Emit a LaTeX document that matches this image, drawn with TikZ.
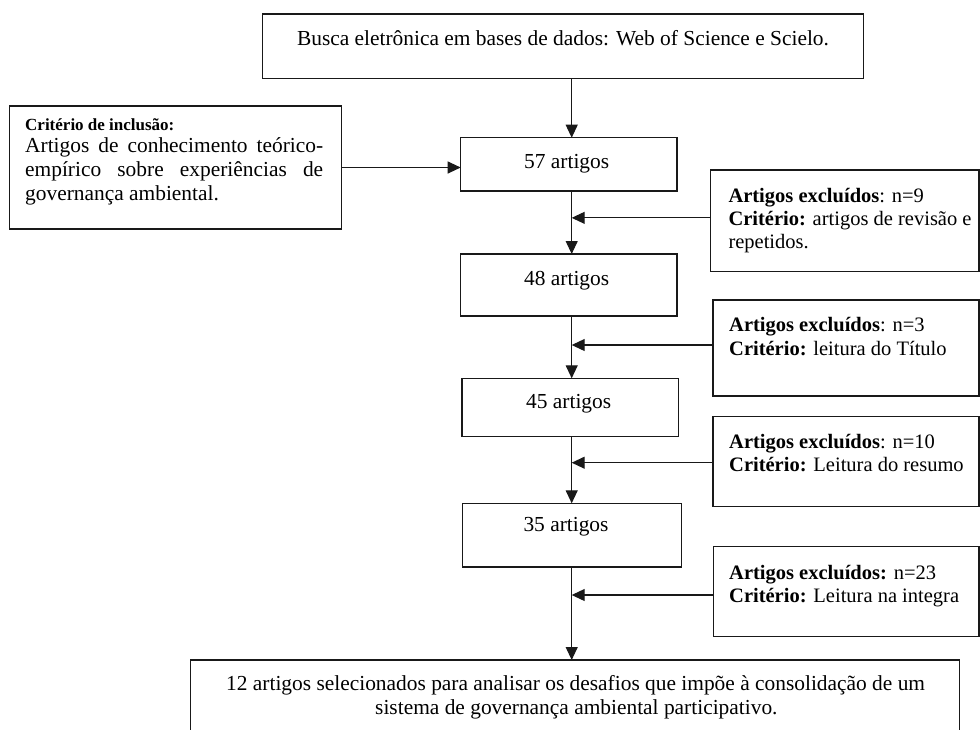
\documentclass[tikz,border=0pt]{standalone}
\usepackage{fontspec}
\setmainfont{Liberation Serif}
\usetikzlibrary{arrows.meta}
\begin{document}
\begin{tikzpicture}[x=1pt,y=-1pt,
  box/.style={draw=black!90, line width=1.1pt, rectangle, inner sep=0pt, outer sep=0pt, anchor=north west},
  txt/.style={inner sep=0pt, font=\fontsize{21.4}{24}\selectfont},
  etxt/.style={inner sep=0pt, anchor=mid west, font=\fontsize{20.5}{23}\selectfont},
  arr/.style={draw=black!90, line width=1.1pt, -{Triangle[length=13pt,width=12pt]}}]
\useasboundingbox (0,0) rectangle (980,729);
\fill[white] (0,0) rectangle (980,729);
\clip (0,0) rectangle (980,729);
\coordinate (ax) at (571.7,0);
% boxes
\node[box, minimum width=600.6pt, minimum height=64.3pt] (top) at (262.7,14) {};
\node[box, minimum width=332.4pt, minimum height=123pt] (inc) at (9.3,106) {};
\node[box, minimum width=216.3pt, minimum height=53.3pt] (n57) at (460.7,137.7) {};
\node[box, minimum width=216.3pt, minimum height=62pt] (n48) at (460.7,254) {};
\node[box, minimum width=216.7pt, minimum height=58.4pt] (n45) at (462,378.3) {};
\node[box, minimum width=219pt, minimum height=63.7pt] (n35) at (462.7,503.3) {};
\node[box, minimum width=268.3pt, minimum height=101.7pt] (e1) at (710.7,170) {};
\node[box, minimum width=266pt, minimum height=96pt] (e2) at (713,300) {};
\node[box, minimum width=266pt, minimum height=90pt] (e3) at (713,416.7) {};
\node[box, minimum width=265.7pt, minimum height=90pt] (e4) at (713.3,546.7) {};
\node[box, minimum width=768.6pt, minimum height=100pt] (fin) at (190.7,660) {};
% texts
\node[txt, anchor=mid] (ttop) at (563,43) {Busca eletrônica em bases de dados: Web of Science e Scielo.};
\node[txt, anchor=mid west, font=\fontsize{17}{20}\selectfont\bfseries] (tinc0) at (25,128) {Critério de inclusão:};
\node[txt, anchor=mid west] (tinc1) at (25,150) {\makebox[298pt][s]{Artigos de conhecimento teórico-}};
\node[txt, anchor=mid west] (tinc2) at (25,174) {\makebox[298pt][s]{empírico sobre experiências de}};
\node[txt, anchor=mid west] (tinc3) at (25,198) {governança ambiental.};
\node[txt, anchor=mid] (t57) at (566.7,166.5) {57 artigos};
\node[txt, anchor=mid] (t48) at (566.7,283) {48 artigos};
\node[txt, anchor=mid] (t45) at (568.7,406) {45 artigos};
\node[txt, anchor=mid] (t35) at (566,529.5) {35 artigos};
\node[etxt] (te1a) at (728.3,200) {\textbf{Artigos excluídos}: n=9};
\node[etxt] (te1b) at (728.3,223) {\textbf{Critério:} artigos de revisão e};
\node[etxt] (te1c) at (728.3,246) {repetidos.};
\node[etxt] (te2a) at (729,329) {\textbf{Artigos excluídos}: n=3};
\node[etxt] (te2b) at (729,353) {\textbf{Critério:} leitura do Título};
\node[etxt] (te3a) at (729,446) {\textbf{Artigos excluídos}: n=10};
\node[etxt] (te3b) at (729,469) {\textbf{Critério:} Leitura do resumo};
\node[etxt] (te4a) at (729,577) {\textbf{Artigos excluídos:} n=23};
\node[etxt] (te4b) at (729,600) {\textbf{Critério:} Leitura na integra};
\node[txt, anchor=mid west] (tfa) at (226,688) {12 artigos selecionados para analisar os desafios que impõe à consolidação de um};
\node[txt, anchor=mid west] (tfb) at (375,712) {sistema de governança ambiental participativo.};
% connectors
\draw[arr] (top.south -| ax) -- (n57.north -| ax);
\draw[arr] (inc.east) -- (inc.east -| n57.west);
\draw[arr] (n57.south -| ax) -- (n48.north -| ax);
\draw[arr] (n48.south -| ax) -- (n45.north -| ax);
\draw[arr] (n45.south -| ax) -- (n35.north -| ax);
\draw[arr] (n35.south -| ax) -- (fin.north -| ax);
\draw[arr] ([yshift=3pt]e1.west) -- ([yshift=3pt]e1.west -| ax);
\draw[arr] ([yshift=3pt]e2.west) -- ([yshift=3pt]e2.west -| ax);
\draw[arr] ([yshift=-1pt]e3.west) -- ([yshift=-1pt]e3.west -| ax);
\draw[arr] ([yshift=-3.3pt]e4.west) -- ([yshift=-3.3pt]e4.west -| ax);
\end{tikzpicture}
\end{document}
